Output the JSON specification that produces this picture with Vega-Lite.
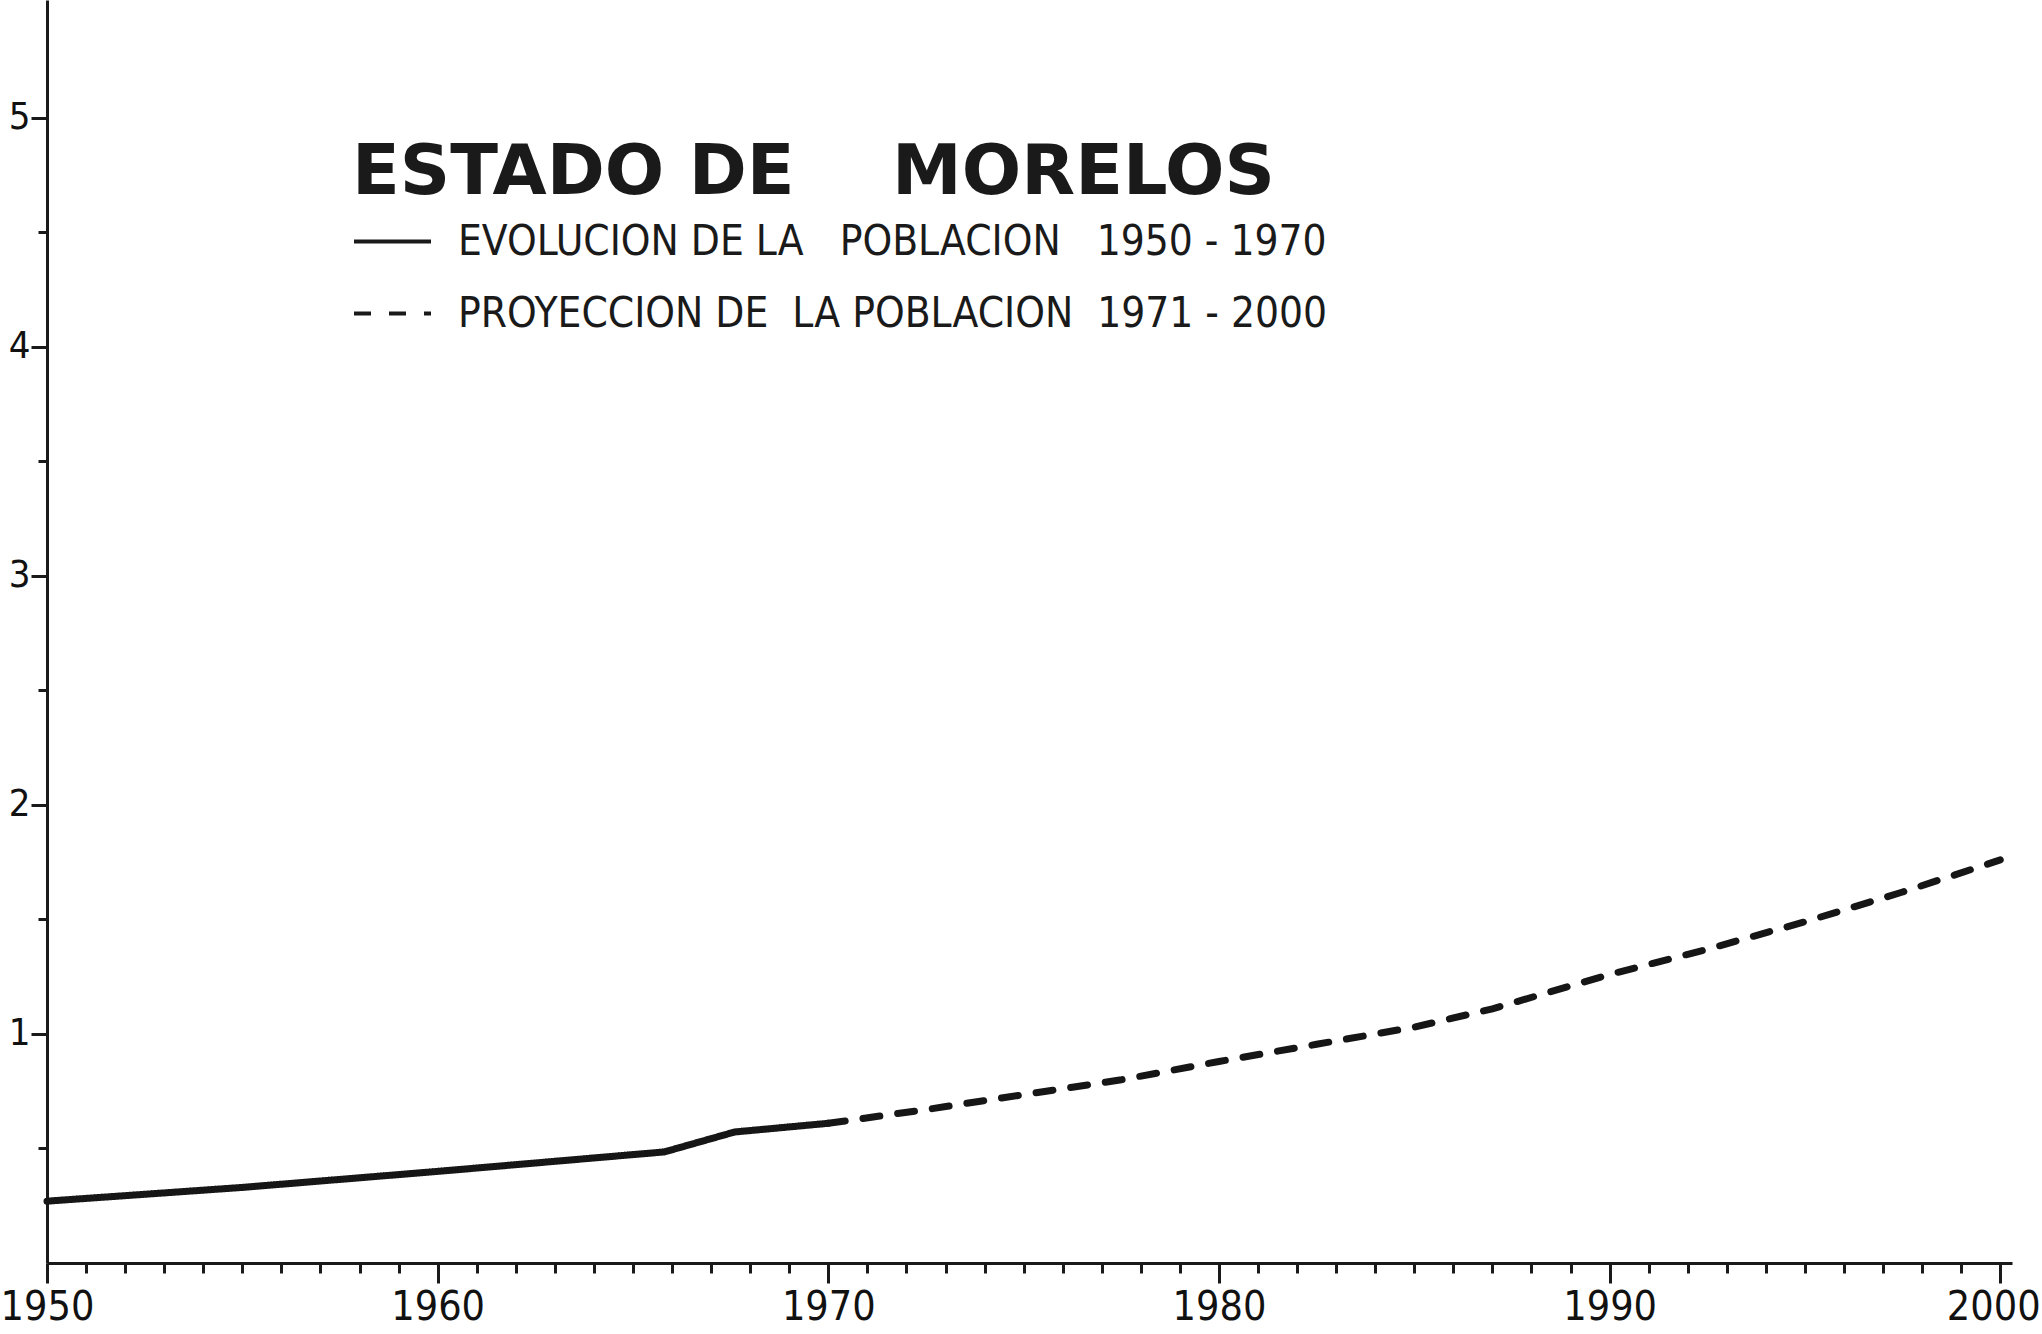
{
  "$schema": "https://vega.github.io/schema/vega-lite/v6.json",
  "width": 1965,
  "height": 1263,
  "autosize": "none",
  "padding": {"left": 47, "top": 0, "right": 30, "bottom": 71},
  "background": "white",
  "config": {"view": {"stroke": null}},
  "data": {
    "values": [
      {"anio": 1950, "poblacion": 0.27, "serie": "evolucion"},
      {"anio": 1955, "poblacion": 0.33, "serie": "evolucion"},
      {"anio": 1960, "poblacion": 0.40, "serie": "evolucion"},
      {"anio": 1965.8, "poblacion": 0.485, "serie": "evolucion"},
      {"anio": 1967.6, "poblacion": 0.572, "serie": "evolucion"},
      {"anio": 1970, "poblacion": 0.61, "serie": "evolucion"},
      {"anio": 1970, "poblacion": 0.61, "serie": "proyeccion"},
      {"anio": 1972.5, "poblacion": 0.67, "serie": "proyeccion"},
      {"anio": 1975, "poblacion": 0.735, "serie": "proyeccion"},
      {"anio": 1977.5, "poblacion": 0.80, "serie": "proyeccion"},
      {"anio": 1980, "poblacion": 0.88, "serie": "proyeccion"},
      {"anio": 1982.5, "poblacion": 0.955, "serie": "proyeccion"},
      {"anio": 1985, "poblacion": 1.03, "serie": "proyeccion"},
      {"anio": 1987, "poblacion": 1.11, "serie": "proyeccion"},
      {"anio": 1990, "poblacion": 1.26, "serie": "proyeccion"},
      {"anio": 1992.5, "poblacion": 1.37, "serie": "proyeccion"},
      {"anio": 1995, "poblacion": 1.49, "serie": "proyeccion"},
      {"anio": 1997.5, "poblacion": 1.62, "serie": "proyeccion"},
      {"anio": 2000, "poblacion": 1.76, "serie": "proyeccion"}
    ]
  },
  "mark": {"type": "line", "strokeWidth": 7, "strokeCap": "round", "color": "#161616"},
  "encoding": {
    "x": {
      "field": "anio",
      "type": "quantitative",
      "scale": {"domain": [1950, 2000.3], "nice": false, "zero": false},
      "axis": {
        "title": null,
        "grid": false,
        "values": [1950,1951,1952,1953,1954,1955,1956,1957,1958,1959,1960,1961,1962,1963,1964,1965,1966,1967,1968,1969,1970,1971,1972,1973,1974,1975,1976,1977,1978,1979,1980,1981,1982,1983,1984,1985,1986,1987,1988,1989,1990,1991,1992,1993,1994,1995,1996,1997,1998,1999,2000],
        "labelExpr": "datum.value % 10 === 0 ? format(datum.value, 'd') : ''",
        "labelFont": "DejaVu Sans Condensed, sans-serif",
        "labelFontSize": 41,
        "labelColor": "#111111",
        "labelPadding": 4,
        "labelOffset": {"condition": {"test": "datum.value === 2000", "value": -7}, "value": 0},
        "labelOverlap": false,
        "labelBound": false,
        "labelFlush": false,
        "domainColor": "#1a1a1a",
        "domainWidth": 3,
        "tickColor": "#1a1a1a",
        "tickWidth": 3,
        "tickSize": {"condition": {"test": "datum.value % 10 === 0", "value": 20}, "value": 10}
      }
    },
    "y": {
      "field": "poblacion",
      "type": "quantitative",
      "scale": {"domain": [0, 5.515], "nice": false},
      "axis": {
        "title": null,
        "grid": false,
        "values": [0.5, 1, 1.5, 2, 2.5, 3, 3.5, 4, 4.5, 5],
        "labelExpr": "datum.value % 1 === 0 ? format(datum.value, 'd') : ''",
        "labelFont": "DejaVu Sans Condensed, sans-serif",
        "labelFontSize": 38,
        "labelColor": "#111111",
        "labelPadding": 1,
        "labelOverlap": false,
        "labelBound": false,
        "domainColor": "#1a1a1a",
        "domainWidth": 3,
        "tickColor": "#1a1a1a",
        "tickWidth": 3,
        "tickSize": {"condition": {"test": "datum.value % 1 === 0", "value": 16}, "value": 9}
      }
    },
    "strokeDash": {
      "field": "serie",
      "type": "nominal",
      "scale": {"domain": ["evolucion", "proyeccion"], "range": [[1, 0], [17, 18]]},
      "legend": {
        "orient": "none",
        "legendX": 305,
        "legendY": 139,
        "padding": 0,
        "title": "ESTADO DE\u00a0\u00a0\u00a0\u00a0MORELOS",
        "titleFont": "DejaVu Sans",
        "titleFontSize": 70,
        "titleFontWeight": "bold",
        "titleColor": "#1a1a1a",
        "titlePadding": -8,
        "titleLimit": 2000,
        "symbolType": "stroke",
        "symbolSize": 5929,
        "symbolStrokeWidth": 4,
        "symbolStrokeColor": "#1a1a1a",
        "labelOffset": 25,
        "rowPadding": 10,
        "labelFont": "DejaVu Sans Condensed, sans-serif",
        "labelFontSize": 42,
        "labelColor": "#1a1a1a",
        "labelLimit": 1500,
        "labelExpr": "datum.value === 'evolucion' ? 'EVOLUCION DE LA\u00a0\u00a0\u00a0POBLACION\u00a0\u00a0\u00a01950 - 1970' : 'PROYECCION DE\u00a0\u00a0LA POBLACION\u00a0\u00a01971 - 2000'"
      }
    }
  }
}
